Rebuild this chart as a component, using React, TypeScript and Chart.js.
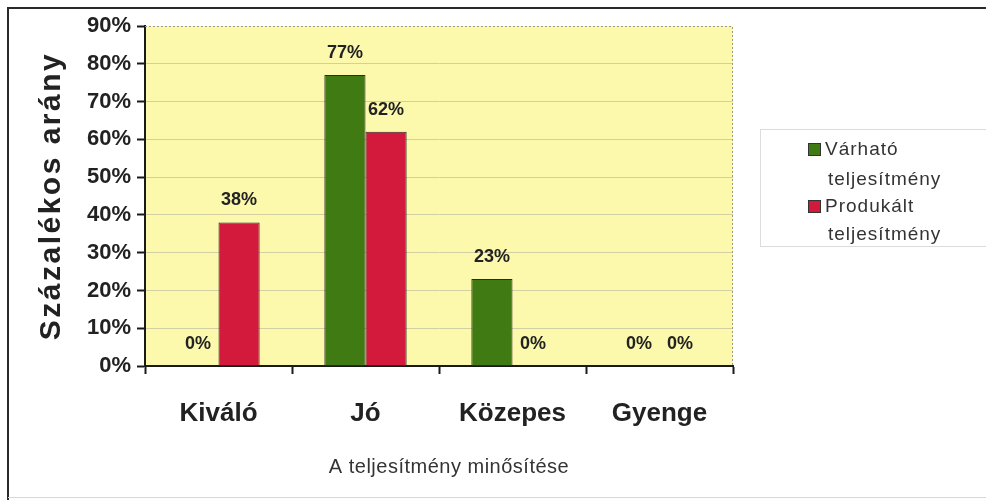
import React, { useEffect, useRef } from "react";
import { Chart, registerables } from "chart.js";

Chart.register(...registerables);

const categories = ["Kiváló", "Jó", "Közepes", "Gyenge"];
const seriesNames = [["Várható", "teljesítmény"], ["Produkált", "teljesítmény"]];
const expectedValues = [0, 77, 23, 0];
const producedValues = [38, 62, 0, 0];
const yTickMax = 90;
const yTickStep = 10;
const yTitle = "Százalékos arány";
const xTitle = "A teljesítmény minősítése";

const GREEN = "#3f7a12";
const RED = "#d31a3c";
const FONT = "'Liberation Sans', Arial, sans-serif";

const framePlugin = {
  id: "framePlugin",
  beforeDraw(chart: any) {
    const { ctx, chartArea: a, width, height } = chart;
    ctx.save();
    ctx.fillStyle = "#ffffff";
    ctx.fillRect(0, 0, width, height);
    // outer frame
    ctx.strokeStyle = "#2a2a2a";
    ctx.lineWidth = 2;
    ctx.beginPath();
    ctx.moveTo(8, height);
    ctx.lineTo(8, 8);
    ctx.lineTo(width, 8);
    ctx.stroke();
    ctx.strokeStyle = "#d8d8d8";
    ctx.lineWidth = 1;
    ctx.beginPath();
    ctx.moveTo(8, height - 2.5);
    ctx.lineTo(width, height - 2.5);
    ctx.stroke();
    // plot background
    ctx.fillStyle = "#fcf9ad";
    ctx.fillRect(a.left, a.top, a.right - a.left, a.bottom - a.top);
    ctx.restore();
  },
  afterDatasetsDraw(chart: any) {
    const { ctx, chartArea: a } = chart;
    ctx.save();
    // dotted plot border top & right
    ctx.strokeStyle = "#9a9a9a";
    ctx.lineWidth = 1;
    ctx.setLineDash([2, 2]);
    ctx.beginPath();
    ctx.moveTo(a.left, a.top + 0.5);
    ctx.lineTo(a.right - 0.5, a.top + 0.5);
    ctx.lineTo(a.right - 0.5, a.bottom);
    ctx.stroke();
    ctx.setLineDash([]);
    // data labels
    ctx.fillStyle = "#222222";
    ctx.font = `bold 18px ${FONT}`;
    ctx.textAlign = "center";
    ctx.textBaseline = "middle";
    chart.data.datasets.forEach((ds: any, i: number) => {
      const meta = chart.getDatasetMeta(i);
      meta.data.forEach((bar: any, j: number) => {
        ctx.fillText(ds.data[j] + "%", bar.x, bar.y - 22);
      });
    });
    // legend
    const lx = 760, ly = 129, lw = 240, lh = 117;
    ctx.strokeStyle = "#dcdcdc";
    ctx.lineWidth = 1;
    ctx.strokeRect(lx + 0.5, ly + 0.5, lw, lh);
    ctx.font = `19px ${FONT}`;
    (ctx as any).letterSpacing = "1px";
    ctx.textAlign = "left";
    const lineYs = [149, 179, 206, 234];
    chart.data.datasets.forEach((ds: any, i: number) => {
      const y1 = lineYs[i * 2];
      const y2 = lineYs[i * 2 + 1];
      ctx.fillStyle = ds.backgroundColor;
      ctx.fillRect(808, y1 - 6, 13, 13);
      ctx.strokeStyle = "#333333";
      ctx.strokeRect(808.5, y1 - 5.5, 12, 12);
      ctx.fillStyle = "#333333";
      ctx.fillText(seriesNames[i][0], 825, y1 + 1);
      ctx.fillText(seriesNames[i][1], 828, y2 + 1);
    });
    // x title
    ctx.font = `20px ${FONT}`;
    (ctx as any).letterSpacing = "0.5px";
    ctx.textAlign = "center";
    ctx.fillStyle = "#333333";
    ctx.fillText(xTitle, 449, 467);
    // y title
    ctx.translate(52, (a.top + a.bottom) / 2);
    ctx.rotate(-Math.PI / 2);
    ctx.font = `bold 30px ${FONT}`;
    (ctx as any).letterSpacing = "2.5px";
    ctx.fillStyle = "#222222";
    ctx.fillText(yTitle, 0, 0);
    (ctx as any).letterSpacing = "0px";
    ctx.restore();
  },
};

export default function App() {
  const ref = useRef<HTMLCanvasElement>(null);
  useEffect(() => {
    if (!ref.current) return;
    const chart = new Chart(ref.current, {
      type: "bar",
      data: {
        labels: categories,
        datasets: [
          {
            label: seriesNames[0].join(" "),
            data: expectedValues,
            backgroundColor: GREEN,
            borderColor: "#2a2a2a",
            borderWidth: 1,
            categoryPercentage: 0.56,
            barPercentage: 1.0,
          },
          {
            label: seriesNames[1].join(" "),
            data: producedValues,
            backgroundColor: RED,
            borderColor: "#2a2a2a",
            borderWidth: 1,
            categoryPercentage: 0.56,
            barPercentage: 1.0,
          },
        ],
      },
      options: {
        responsive: false,
        animation: false,
        layout: { padding: { top: 26, right: 253, left: 0, bottom: 0 } },
        plugins: {
          legend: { display: false },
          tooltip: { enabled: false },
        },
        scales: {
          x: {
            afterFit: (s: any) => { s.height = 134; },
            grid: {
              offset: true,
              drawOnChartArea: false,
              tickLength: 8,
              tickColor: "#1a1a1a",
              tickWidth: 2,
            },
            border: { color: "#1a1a1a", width: 2 },
            ticks: {
              color: "#222222",
              font: { family: FONT, size: 26, weight: "bold" },
              padding: 24,
            },
          },
          y: {
            min: 0,
            max: yTickMax,
            afterFit: (s: any) => { s.width = 145; },
            grid: {
              color: (c: any) => (c.tick && c.tick.value === yTickMax ? "rgba(0,0,0,0)" : "#d2d0a0"),
              tickColor: "#1a1a1a",
              tickLength: 8,
              tickWidth: 2,
            },
            border: { color: "#1a1a1a", width: 2 },
            ticks: {
              stepSize: yTickStep,
              color: "#222222",
              font: { family: FONT, size: 22, weight: "bold" },
              padding: 6,
              callback: (v: any) => v + "%",
            },
          },
        },
      },
      plugins: [framePlugin],
    });
    return () => chart.destroy();
  }, []);
  return (
    <div style={{ position: "fixed", left: 0, top: 0, width: 986, height: 500 }}>
      <canvas ref={ref} width={986} height={500} style={{ display: "block" }} />
    </div>
  );
}
